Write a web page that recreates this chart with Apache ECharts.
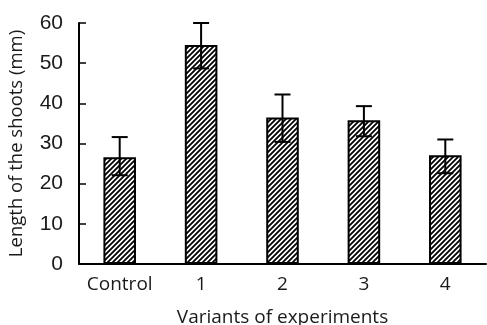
<!DOCTYPE html>
<html><head><meta charset="utf-8">
<script src="https://cdn.jsdelivr.net/npm/echarts@6/dist/echarts.min.js"></script>
<style>html,body{margin:0;padding:0;background:#fff}#c{width:487px;height:325px}</style>
</head><body><div id="c"></div>
<script>
var categories = ['Control', '1', '2', '3', '4'];
var means = [26.6, 54.5, 36.5, 35.8, 27.1];
var errUpper = [31.6, 60.0, 42.2, 39.3, 31.0];
var errLower = [22.1, 48.7, 30.4, 31.8, 22.6];
var yTicks = [0, 10, 20, 30, 40, 50, 60];

function hatch() {
  var s = 5, c = document.createElement('canvas');
  c.width = s; c.height = s;
  var g = c.getContext('2d');
  g.fillStyle = '#fff'; g.fillRect(0, 0, s, s);
  g.strokeStyle = '#000'; g.lineWidth = 1.8;
  g.beginPath();
  g.moveTo(-1, s + 1); g.lineTo(s + 1, -1);
  g.moveTo(-1, 1); g.lineTo(1, -1);
  g.moveTo(s - 1, s + 1); g.lineTo(s + 1, s - 1);
  g.stroke();
  return c;
}

var chart = echarts.init(document.getElementById('c'));
var errData = categories.map(function (c, i) { return [i, errLower[i], errUpper[i]]; });
chart.setOption({
  animation: false,
  grid: { left: 79, right: 1, top: 23, bottom: 61, containLabel: false, outerBoundsMode: 'none' },
  xAxis: {
    type: 'category', data: categories,
    name: 'Variants of experiments', nameLocation: 'middle', nameGap: 44,
    nameTextStyle: { fontFamily: 'Open Sans', fontSize: 19, color: '#1a1a1a' },
    axisLine: { lineStyle: { color: '#000', width: 2 } },
    axisTick: { inside: true, length: 6, lineStyle: { color: '#000', width: 1.5 } },
    axisLabel: { interval: 0, fontFamily: 'Open Sans', fontSize: 19, color: '#1a1a1a', margin: 11 }
  },
  yAxis: {
    type: 'value', min: 0, max: 60, interval: 10,
    name: 'Length of the shoots (mm)', nameLocation: 'middle', nameGap: 53, nameRotate: 90,
    nameTextStyle: { fontFamily: 'Open Sans', fontSize: 18.5, color: '#1a1a1a' },
    axisLine: { show: true, lineStyle: { color: '#000', width: 2 } },
    axisTick: { show: true, inside: true, length: 7, lineStyle: { color: '#000', width: 1.5 } },
    splitLine: { show: false },
    axisLabel: { fontFamily: 'Liberation Sans', fontSize: 21, color: '#1a1a1a', margin: 16,
      formatter: function (v) { return yTicks.indexOf(v) >= 0 ? String(v) : ''; } }
  },
  series: [{
    type: 'bar', data: means, barWidth: '40%',
    itemStyle: { color: { image: hatch(), repeat: 'repeat' }, borderColor: '#000', borderWidth: 2 }
  }, {
    type: 'custom', data: errData, z: 10,
    renderItem: function (params, api) {
      var x = api.value(0);
      var lo = api.coord([x, api.value(1)]);
      var hi = api.coord([x, api.value(2)]);
      var hw = 8;
      var st = { stroke: '#000', lineWidth: 2 };
      return { type: 'group', children: [
        { type: 'line', shape: { x1: hi[0], y1: hi[1], x2: lo[0], y2: lo[1] }, style: st },
        { type: 'line', shape: { x1: hi[0] - hw, y1: hi[1], x2: hi[0] + hw, y2: hi[1] }, style: st },
        { type: 'line', shape: { x1: lo[0] - hw, y1: lo[1], x2: lo[0] + hw, y2: lo[1] }, style: st }
      ] };
    }
  }]
});
</script></body></html>
